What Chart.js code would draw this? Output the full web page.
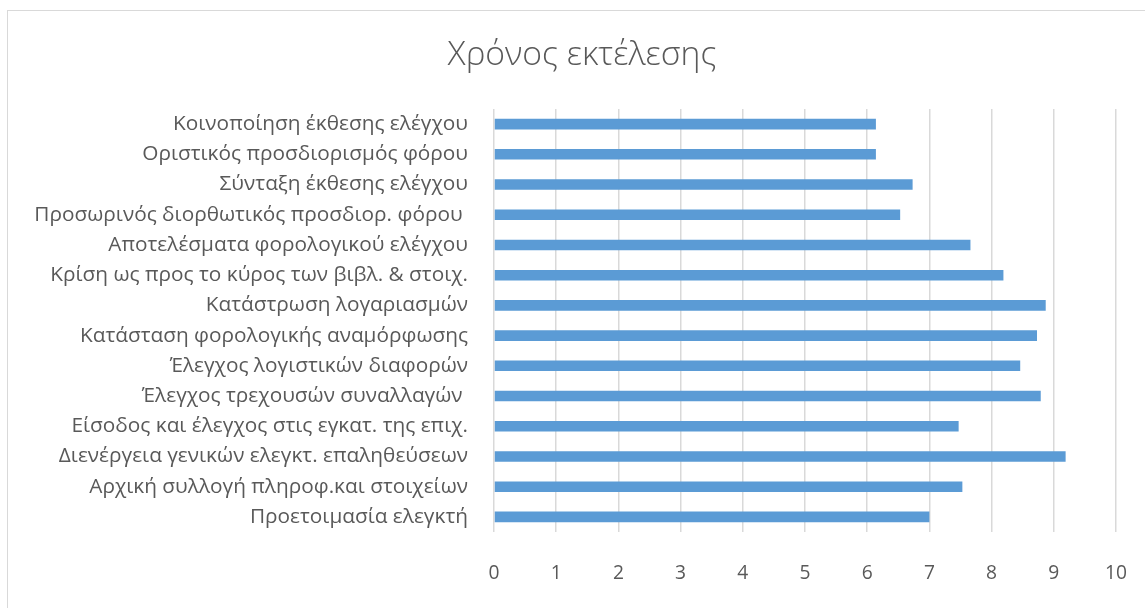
<!DOCTYPE html>
<html>
<head>
<meta charset="utf-8">
<script src="https://cdn.jsdelivr.net/npm/chart.js@4.4.1/dist/chart.umd.min.js"></script>
<style>
  html, body { margin: 0; padding: 0; background: #fff; overflow: hidden; }
  #frame { position: absolute; left: 7px; top: 10px; width: 1200px; height: 700px; border: 1px solid #d9d9d9; box-sizing: border-box; }
  #c { position: absolute; left: 0; top: 0; }
</style>
</head>
<body>
<div id="frame"></div>
<canvas id="c" width="1145" height="608"></canvas>
<script>
const chartTitle = "Χρόνος εκτέλεσης";
const categories = [
  "Κοινοποίηση έκθεσης ελέγχου",
  "Οριστικός προσδιορισμός φόρου",
  "Σύνταξη έκθεσης ελέγχου",
  "Προσωρινός διορθωτικός προσδιορ. φόρου ",
  "Αποτελέσματα φορολογικού ελέγχου",
  "Κρίση ως προς το κύρος των βιβλ. & στοιχ.",
  "Κατάστρωση λογαριασμών",
  "Κατάσταση φορολογικής αναμόρφωσης",
  "Έλεγχος λογιστικών διαφορών",
  "Έλεγχος τρεχουσών συναλλαγών ",
  "Είσοδος και έλεγχος στις εγκατ. της επιχ.",
  "Διενέργεια γενικών ελεγκτ. επαληθεύσεων",
  "Αρχική συλλογή πληροφ.και στοιχείων",
  "Προετοιμασία ελεγκτή"
];
const executionTime = [6.14, 6.14, 6.73, 6.53, 7.66, 8.19, 8.87, 8.73, 8.46, 8.79, 7.47, 9.19, 7.53, 7.0];
const xMin = 0, xMax = 10, xStep = 1;

const FAMILY = "'Open Sans', 'Noto Sans', sans-serif";
const mctx = document.createElement('canvas').getContext('2d');
function fit(text, target, weight) {
  mctx.font = (weight || 'normal') + ' 100px ' + FAMILY;
  return 100 * target / mctx.measureText(text).width;
}
const labelSize = fit("Κοινοποίηση έκθεσης ελέγχου", 295);
const tickSize = fit("10", 22);
const titleSize = fit(chartTitle, 269, '300');
const titleLH = titleSize * 1.2;
const titlePadTop = 55 - titleLH / 2;
const titlePadBottom = 109 - titlePadTop - titleLH;

const LEFT_PAD = 48, RIGHT_PAD = 29;
const xLabelLH = tickSize * 1.2;

const noLabelClip = {
  id: 'noLabelClip',
  beforeDraw(chart) {
    const y = chart.scales.y;
    if (y) y._computeLabelArea = () => undefined;
  }
};

new Chart(document.getElementById('c'), {
  type: 'bar',
  data: {
    labels: categories,
    datasets: [{
      data: executionTime,
      backgroundColor: '#5b9bd5',
      borderWidth: 0,
      barPercentage: 0.35,
      categoryPercentage: 1.0
    }]
  },
  plugins: [noLabelClip],
  options: {
    indexAxis: 'y',
    responsive: false,
    animation: false,
    devicePixelRatio: 1,
    layout: { padding: { left: LEFT_PAD, right: RIGHT_PAD, top: 0, bottom: 0 } },
    plugins: {
      legend: { display: false },
      tooltip: { enabled: false },
      title: {
        display: true,
        text: chartTitle,
        color: '#595959',
        font: { family: FAMILY, size: titleSize, weight: '300', lineHeight: 1.2 },
        padding: { top: titlePadTop, bottom: titlePadBottom }
      }
    },
    scales: {
      x: {
        type: 'linear',
        min: xMin, max: xMax,
        ticks: {
          stepSize: xStep,
          color: '#595959',
          font: { family: FAMILY, size: tickSize, lineHeight: 1.2 },
          padding: 42 - xLabelLH / 2,
          maxRotation: 0
        },
        grid: { color: '#d9d9d9', lineWidth: 1.5, drawTicks: false },
        border: { display: false },
        afterFit: (s) => { s.height = 608 - 532; s.paddingLeft = 0; s.paddingRight = 0; }
      },
      y: {
        ticks: {
          color: '#595959',
          font: { family: FAMILY, size: labelSize },
          padding: 26,
          autoSkip: false
        },
        grid: { display: false, drawTicks: false },
        border: { display: false },
        afterFit: (s) => { s.width = 494 - LEFT_PAD; }
      }
    }
  }
});
</script>
</body>
</html>
